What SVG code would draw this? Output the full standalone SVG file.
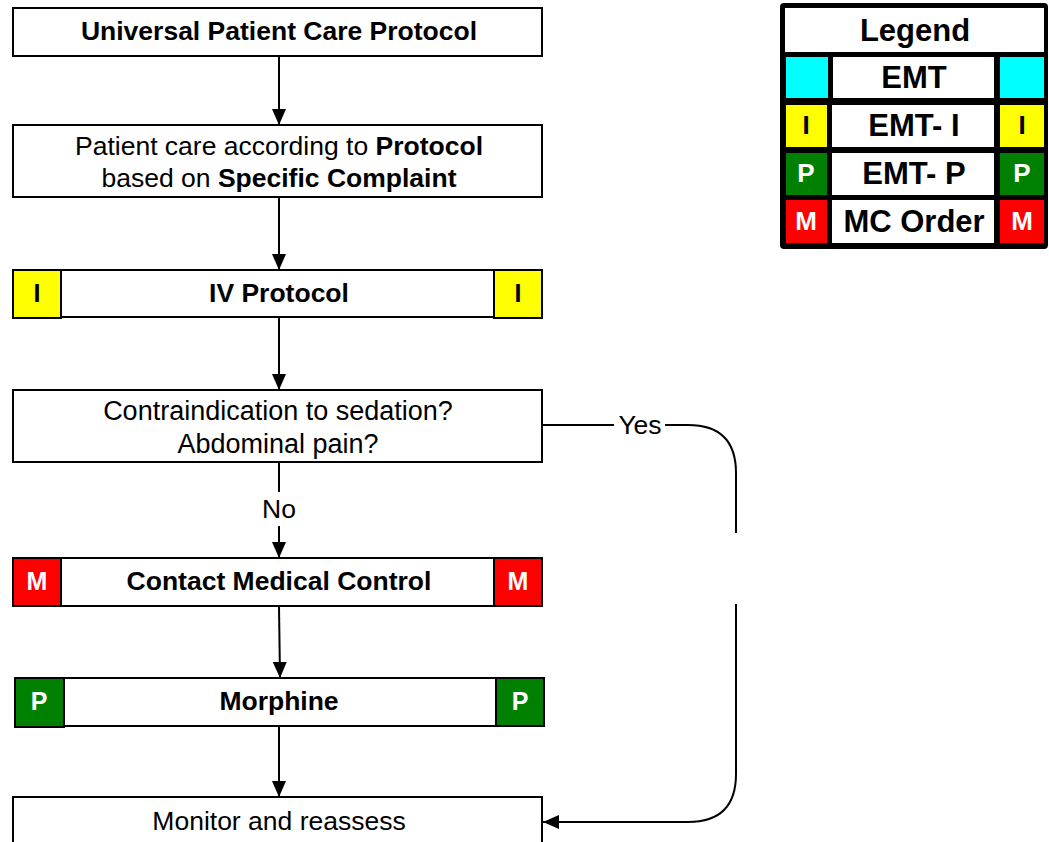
<svg xmlns="http://www.w3.org/2000/svg" width="1049" height="842" viewBox="0 0 1049 842">
<style>
.box{fill:#fff;stroke:#000;stroke-width:2}
.t{font-family:"Liberation Sans",Arial,sans-serif;font-size:26.5px;fill:#000;text-anchor:middle}
.b{font-weight:bold}
.bt{font-family:"Liberation Sans",Arial,sans-serif;font-size:25px;font-weight:bold;text-anchor:middle}
.lb{font-family:"Liberation Sans",Arial,sans-serif;font-size:26px;font-weight:bold;text-anchor:middle}
.lt{font-family:"Liberation Sans",Arial,sans-serif;font-size:31px;font-weight:bold;text-anchor:middle;fill:#000}
.conn{fill:none;stroke:#000;stroke-width:2}
.yel{fill:#ffff00;stroke:#000;stroke-width:2}
.red{fill:#ff0000;stroke:#000;stroke-width:2}
.grn{fill:#008000;stroke:#000;stroke-width:2}
.cell{fill:#fff}
</style>
<defs>
<marker id="arr" viewBox="0 0 16 14" refX="16" refY="7" markerWidth="16" markerHeight="14" orient="auto" markerUnits="userSpaceOnUse">
<path d="M0,0 L16,7 L0,14 z" fill="#000"/>
</marker>
</defs>
<g id="connectors">
<path class="conn" d="M279,56 V125" marker-end="url(#arr)"/>
<path class="conn" d="M279,197 V270" marker-end="url(#arr)"/>
<path class="conn" d="M279,318 V390" marker-end="url(#arr)"/>
<path class="conn" d="M279,462 V492"/>
<path class="conn" d="M279,526 V558" marker-end="url(#arr)"/>
<text class="t" x="279" y="518">No</text>
<path class="conn" d="M279,606 L280,678" marker-end="url(#arr)"/>
<path class="conn" d="M279,727 V797" marker-end="url(#arr)"/>
<path class="conn" d="M542,425 H614 M665,425 H688 Q736,425 736,473 V533 M736,604 V774 Q736,822 688,822 H543" marker-end="url(#arr)"/>
<text class="t" x="640" y="434">Yes</text>
</g>
<g id="n1">
<rect class="box" x="13" y="8" width="529" height="48"/>
<text class="t b" x="279" y="40">Universal Patient Care Protocol</text>
</g>
<g id="n2">
<rect class="box" x="13" y="125" width="529" height="72"/>
<text class="t" x="279" y="155">Patient care according to <tspan class="b">Protocol</tspan></text>
<text class="t" x="279" y="187">based on <tspan class="b">Specific Complaint</tspan></text>
</g>
<g id="n3">
<rect class="box" x="13" y="270" width="529" height="47"/>
<rect class="yel" x="13" y="270" width="48" height="48"/>
<rect class="yel" x="494" y="270" width="48" height="48"/>
<text class="bt" x="37" y="302" fill="#000">I</text>
<text class="bt" x="518" y="302" fill="#000">I</text>
<text class="t b" x="279" y="302">IV Protocol</text>
</g>
<g id="n4">
<rect class="box" x="13" y="390" width="529" height="72"/>
<text class="t" x="278" y="420" style="font-size:27px">Contraindication to sedation?</text>
<text class="t" x="278" y="453" style="font-size:27px">Abdominal pain?</text>
</g>
<g id="n5">
<rect class="box" x="13" y="558" width="529" height="48"/>
<rect class="red" x="13" y="558" width="48" height="48"/>
<rect class="red" x="494" y="558" width="48" height="48"/>
<text class="bt" x="37" y="590" fill="#fff">M</text>
<text class="bt" x="518" y="590" fill="#fff">M</text>
<text class="t b" x="279" y="590">Contact Medical Control</text>
</g>
<g id="n6">
<rect class="box" x="15" y="678" width="529" height="48"/>
<rect class="grn" x="15" y="678" width="49" height="49"/>
<rect class="grn" x="496" y="678" width="48" height="48"/>
<text class="bt" x="39" y="710" fill="#fff">P</text>
<text class="bt" x="520" y="710" fill="#fff">P</text>
<text class="t b" x="279" y="710">Morphine</text>
</g>
<g id="n7">
<rect class="box" x="13" y="797" width="529" height="60"/>
<text class="t" x="279" y="830">Monitor and reassess</text>
</g>
<g id="legend">
<rect x="780" y="3" width="268" height="246" rx="4" fill="#000"/>
<rect class="cell" x="785" y="8" width="259" height="44"/>
<text class="lt" x="915" y="41">Legend</text>
<rect x="786" y="57" width="42" height="41" fill="#00ffff"/>
<rect class="cell" x="833" y="57" width="161" height="41"/>
<rect x="1000" y="57" width="44" height="41" fill="#00ffff"/>
<text class="lt" x="914" y="88">EMT</text>
<rect x="786" y="105" width="41" height="42" fill="#ffff00"/>
<rect class="cell" x="832" y="105" width="162" height="42"/>
<rect x="1000" y="105" width="44" height="42" fill="#ffff00"/>
<text class="lt" x="914" y="136">EMT- I</text>
<text class="lb" x="806" y="134" fill="#000">I</text>
<text class="lb" x="1022" y="134" fill="#000">I</text>
<rect x="786" y="153" width="41" height="42" fill="#008000"/>
<rect class="cell" x="832" y="153" width="162" height="42"/>
<rect x="1000" y="153" width="44" height="42" fill="#008000"/>
<text class="lt" x="914" y="184">EMT- P</text>
<text class="lb" x="806" y="182" fill="#fff">P</text>
<text class="lb" x="1022" y="182" fill="#fff">P</text>
<rect x="786" y="200" width="41" height="43" fill="#ff0000"/>
<rect class="cell" x="832" y="200" width="162" height="43"/>
<rect x="1000" y="200" width="44" height="43" fill="#ff0000"/>
<text class="lt" x="914" y="232">MC Order</text>
<text class="lb" x="806" y="230" fill="#fff">M</text>
<text class="lb" x="1022" y="230" fill="#fff">M</text>
</g>
</svg>
